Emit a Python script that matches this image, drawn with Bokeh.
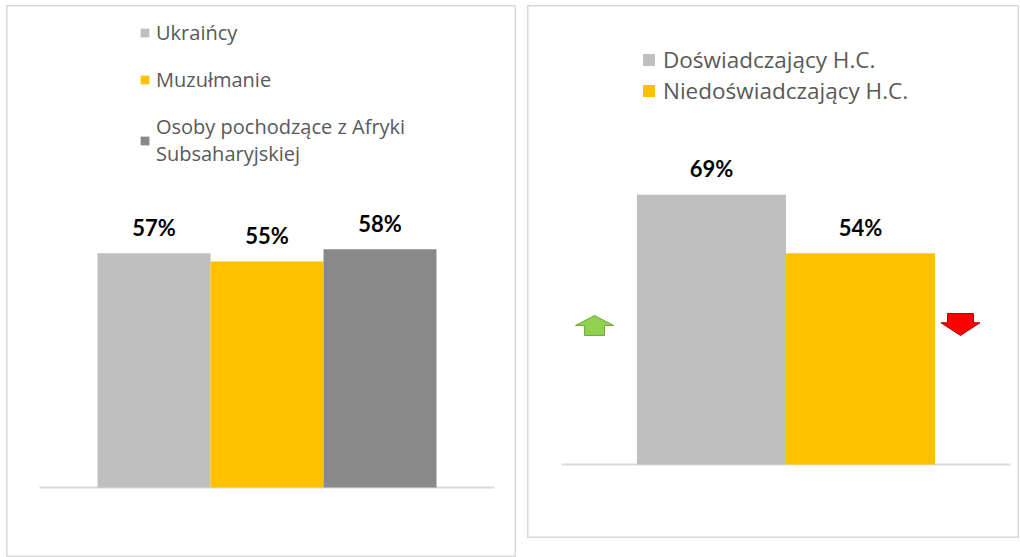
from bokeh.plotting import figure
from bokeh.models import ColumnDataSource, Range1d, Legend, LegendItem
from bokeh.layouts import row
from bokeh.core.properties import value
from bokeh.embed import file_html
from bokeh.resources import INLINE

# ---- data ----
left_groups = ["Ukraińcy", "Muzułmanie", "Osoby pochodzące z Afryki\nSubsaharyjskiej"]
left_values = [57, 55, 58]
left_labels = ["57%", "55%", "58%"]
left_colors = ["#BFBFBF", "#FFC000", "#898989"]

right_groups = ["Doświadczający H.C.", "Niedoświadczający H.C."]
right_values = [69, 54]
right_labels = ["69%", "54%"]
right_colors = ["#BFBFBF", "#FFC000"]

FONT = "Open Sans"
BOLD_FONT = "Lato"
BORDER = "#D9D9D9"


def base_fig(w, h, xr, yr):
    p = figure(width=w, height=h, output_backend="svg", toolbar_location=None,
               x_range=Range1d(*xr), y_range=Range1d(*yr), min_border=0)
    p.axis.visible = False
    p.grid.visible = False
    p.outline_line_color = BORDER
    p.outline_line_width = 2
    p.background_fill_color = "white"
    p.border_fill_color = "white"
    return p


# ---------- left panel ----------
p1 = base_fig(510, 552, (-1.3053, 3.208), (-17.03, 117.28))
src1 = ColumnDataSource(dict(x=list(range(len(left_values))), top=left_values,
                             color=left_colors, lab=left_labels))
p1.segment(x0=[-1.0133], x1=[3.0133], y0=[0], y1=[0], line_color=BORDER, line_width=2)
renderers1 = []
for i in range(len(left_values)):
    r = p1.vbar(x=[i], top=[left_values[i]], width=1.0, bottom=0,
                fill_color=left_colors[i], line_color=None)
    renderers1.append(r)
p1.text(x="x", y="top", text="lab", source=src1, text_font=value(BOLD_FONT),
        text_font_style="bold", text_font_size="22px", text_color="#000000",
        text_align="center", text_baseline="middle", y_offset=-26)
leg1 = Legend(items=[LegendItem(label=g, renderers=[r]) for g, r in zip(left_groups, renderers1)],
              location=(133, 390), orientation="vertical",
              label_text_font=FONT, label_text_font_size="20px", label_text_color="#595959",
              glyph_width=11, glyph_height=11, label_standoff=6, spacing=20,
              padding=0, margin=0, border_line_color=None, background_fill_alpha=0)
p1.add_layout(leg1)

# ---------- right panel ----------
p2 = base_fig(492, 533, (-1.2349, 2.0671), (-18.93, 117.39))
src2 = ColumnDataSource(dict(x=list(range(len(right_values))), top=right_values,
                             color=right_colors, lab=right_labels))
p2.segment(x0=[-1.0067], x1=[2.0067], y0=[0], y1=[0], line_color=BORDER, line_width=2)
renderers2 = []
for i in range(len(right_values)):
    r = p2.vbar(x=[i], top=[right_values[i]], width=1.0, bottom=0,
                fill_color=right_colors[i], line_color=None)
    renderers2.append(r)
p2.text(x="x", y="top", text="lab", source=src2, text_font=value(BOLD_FONT),
        text_font_style="bold", text_font_size="22px", text_color="#000000",
        text_align="center", text_baseline="middle", y_offset=-26)


# block arrows (decorations), built around a centre point
def up_arrow(cx, ybot, ytop, hw=0.128, sw=0.067, neck=0.5):
    ym = ybot + (ytop - ybot) * neck
    xs = [cx - sw, cx - sw, cx - hw, cx, cx + hw, cx + sw, cx + sw]
    ys = [ybot, ym, ym, ytop, ym, ym, ybot]
    return xs, ys


def down_arrow(cx, ybot, ytop, hw=0.131, sw=0.087, neck=0.42):
    ym = ytop - (ytop - ybot) * neck
    xs = [cx - sw, cx - sw, cx - hw, cx, cx + hw, cx + sw, cx + sw]
    ys = [ytop, ym, ym, ybot, ym, ym, ytop]
    return xs, ys


gx, gy = up_arrow(-0.785, 33.0, 38.1)
rx, ry = down_arrow(1.671, 33.0, 38.6)
p2.patch(gx, gy, fill_color="#92D050", line_color="#71A83C", line_width=1)
p2.patch(rx, ry, fill_color="#FF0000", line_color="#B00000", line_width=1)

leg2 = Legend(items=[LegendItem(label=g, renderers=[r]) for g, r in zip(right_groups, renderers2)],
              location=(114, 432), orientation="vertical",
              label_text_font=FONT, label_text_font_size="22.5px", label_text_color="#595959",
              glyph_width=15, glyph_height=15, label_standoff=7, spacing=0,
              padding=0, margin=0, border_line_color=None, background_fill_alpha=0)
p2.add_layout(leg2)

layout = row(p1, p2, spacing=11, margin=(5, 0, 0, 6))
open("out.html", "w").write(file_html(layout, INLINE))
